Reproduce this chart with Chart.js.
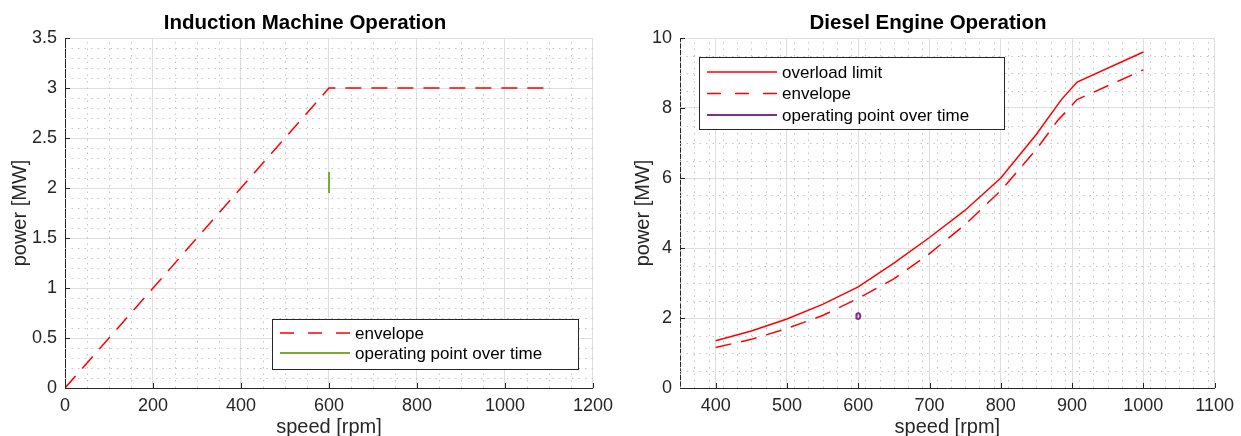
<!DOCTYPE html>
<html><head><meta charset="utf-8">
<script src="https://cdn.jsdelivr.net/npm/chart.js@4.4.0/dist/chart.umd.min.js"></script>
<style>
html,body{margin:0;padding:0;background:#fff;overflow:hidden;width:1241px;height:436px;}
canvas{position:absolute;top:0;}
#c1{left:0;} #c2{left:620px;}
</style></head><body>
<canvas id="c1" width="620" height="460"></canvas>
<canvas id="c2" width="621" height="460"></canvas>
<script>
// ---- Induction machine data ----
const imSpeed    = [0, 600, 1100];
const imEnvelope = [0, 3, 3];
const imOpSpeed  = [600, 600];
const imOpPower  = [1.95, 2.16];
const imXTicks   = [0, 200, 400, 600, 800, 1000, 1200];
const imYTicks   = [0, 0.5, 1, 1.5, 2, 2.5, 3, 3.5];

// ---- Diesel engine data ----
const deLimitSpeed = [400, 450, 500, 550, 600, 650, 700, 750, 800, 850, 885, 907, 1000];
const deOverload   = [1.35, 1.63, 1.97, 2.39, 2.89, 3.57, 4.30, 5.08, 6.00, 7.25, 8.24, 8.74, 9.60];
const deEnvSpeed   = [400, 450, 500, 550, 600, 650, 700, 750, 800, 850, 880, 896, 907, 1000];
const deEnvelope   = [1.16, 1.39, 1.70, 2.07, 2.56, 3.12, 3.84, 4.67, 5.64, 6.82, 7.65, 7.99, 8.24, 9.09];
const deOpSpeed    = [600, 602, 603, 602, 600, 598, 597, 598, 600];
const deOpPower    = [1.97, 1.99, 2.05, 2.12, 2.14, 2.12, 2.05, 1.99, 1.97];
const deXTicks     = [400, 500, 600, 700, 800, 900, 1000, 1100];
const deYTicks     = [0, 2, 4, 6, 8, 10];

// ---- labels ----
const titles = ['Induction Machine Operation', 'Diesel Engine Operation'];
const xLabel = 'speed [rpm]';
const yLabel = 'power [MW]';

const FONT = "'Liberation Sans', Arial, Helvetica, sans-serif";
const TXT = '#262626';

function pts(xs, ys){ return xs.map((x,i)=>({x:x, y:ys[i]})); }

const matlabPlugin = {
  id: 'matlab',
  beforeDatasetsDraw(chart, args, o) {
    const ctx = chart.ctx, ca = chart.chartArea;
    const xs = chart.scales.x, ys = chart.scales.y;
    ctx.save();
    ctx.strokeStyle = '#c4c4c4';
    ctx.lineWidth = 1;
    ctx.setLineDash([1.5, 5]);
    const eps = 1e-9;
    for (let v = xs.min; v <= xs.max + eps; v += o.xMinor) {
      if (Math.abs(v/o.xMajor - Math.round(v/o.xMajor)) < 1e-6) continue;
      const p = Math.round(xs.getPixelForValue(v)) + 0.5;
      ctx.beginPath(); ctx.moveTo(p, ca.bottom); ctx.lineTo(p, ca.top); ctx.stroke();
    }
    for (let v = ys.min; v <= ys.max + eps; v += o.yMinor) {
      if (Math.abs(v/o.yMajor - Math.round(v/o.yMajor)) < 1e-6) continue;
      const p = Math.round(ys.getPixelForValue(v)) + 0.5;
      ctx.beginPath(); ctx.moveTo(ca.left, p); ctx.lineTo(ca.right, p); ctx.stroke();
    }
    ctx.restore();
  },
  afterDatasetsDraw(chart, args, o) {
    const ctx = chart.ctx, ca = chart.chartArea;
    const xs = chart.scales.x, ys = chart.scales.y;
    ctx.save();
    // inward ticks
    ctx.strokeStyle = TXT; ctx.lineWidth = 1; ctx.setLineDash([]);
    xs.ticks.forEach(t => {
      const p = Math.round(xs.getPixelForValue(t.value)) + 0.5;
      ctx.beginPath(); ctx.moveTo(p, ca.bottom); ctx.lineTo(p, ca.bottom - 5); ctx.stroke();
    });
    ys.ticks.forEach(t => {
      const p = Math.round(ys.getPixelForValue(t.value)) + 0.5;
      ctx.beginPath(); ctx.moveTo(ca.left, p); ctx.lineTo(ca.left + 5, p); ctx.stroke();
    });
    // legend
    const L = o.legend;
    ctx.fillStyle = '#fff';
    ctx.fillRect(L.x, L.y, L.w, L.h);
    ctx.strokeStyle = TXT; ctx.lineWidth = 1;
    ctx.strokeRect(L.x + 0.5, L.y + 0.5, L.w, L.h);
    ctx.font = '17px ' + FONT;
    ctx.textBaseline = 'middle';
    ctx.textAlign = 'left';
    chart.data.datasets.forEach((d, i) => {
      const y = L.rows[i];
      ctx.strokeStyle = d.borderColor;
      ctx.lineWidth = d.borderWidth;
      ctx.setLineDash(d.borderDash && d.borderDash.length ? [14, 14] : []);
      ctx.beginPath(); ctx.moveTo(L.s0, y); ctx.lineTo(L.s1, y); ctx.stroke();
      ctx.setLineDash([]);
      ctx.fillStyle = '#000';
      ctx.fillText(d.label, L.tx, y + 1);
    });
    // title
    ctx.font = 'bold 20.5px ' + FONT;
    ctx.textAlign = 'center';
    ctx.textBaseline = 'alphabetic';
    ctx.fillStyle = '#000';
    ctx.fillText(o.title, o.titleX, 28.5);
    ctx.restore();
  }
};

function axis(min, max, tickVals, title, isX, size, titlePad) {
  return {
    type: 'linear', min: min, max: max,
    afterBuildTicks: s => { s.ticks = tickVals.map(v => ({ value: v })); },
    ticks: { autoSkip: false, maxRotation: 0, padding: isX ? 7 : 8,
             color: TXT, font: { family: FONT, size: 18 },
             callback: v => String(Math.round(v * 100) / 100) },
    grid: { color: '#dedede', lineWidth: 1, drawTicks: false },
    border: { display: true, color: TXT, width: 1 },
    title: { display: true, text: title, color: TXT, font: { family: FONT, size: 20 }, padding: titlePad },
    afterFit: s => { if (isX) s.height = size; else s.width = size; }
  };
}

function make(id, datasets, xr, xt, yr, yt, leftW, padRight, yTitlePad, plug) {
  return new Chart(document.getElementById(id), {
    type: 'scatter',
    data: { datasets: datasets },
    options: {
      responsive: false, animation: false,
      layout: { padding: { top: 38, right: padRight, left: 0, bottom: 0 } },
      scales: {
        x: axis(xr[0], xr[1], xt, xLabel, true, 72, { top: 0, bottom: 21 }),
        y: axis(yr[0], yr[1], yt, yLabel, false, leftW, { top: yTitlePad, bottom: 0 })
      },
      plugins: { legend: { display: false }, tooltip: { enabled: false }, matlab: plug }
    },
    plugins: [matlabPlugin]
  });
}

make('c1', [
  { label: 'envelope', data: pts(imSpeed, imEnvelope), showLine: true, borderColor: '#ff0000',
    borderWidth: 1.5, borderDash: [16, 10], pointRadius: 0, tension: 0, fill: false },
  { label: 'operating point over time', data: pts(imOpSpeed, imOpPower), showLine: true,
    borderColor: '#77ac30', borderWidth: 2, pointRadius: 0, tension: 0, fill: false }
], [0, 1200], imXTicks, [0, 3.5], imYTicks, 65, 22, 8, {
  title: titles[0], titleX: 305, xMajor: 200, xMinor: 50, yMajor: 0.5, yMinor: 0.1,
  legend: { x: 272, y: 319, w: 306, h: 50, rows: [333, 353], s0: 280, s1: 350, tx: 355 }
});

make('c2', [
  { label: 'overload limit', data: pts(deLimitSpeed, deOverload), showLine: true, borderColor: '#ff0000',
    borderWidth: 1.5, pointRadius: 0, tension: 0, fill: false },
  { label: 'envelope', data: pts(deEnvSpeed, deEnvelope), showLine: true, borderColor: '#ff0000',
    borderWidth: 1.5, borderDash: [16, 10], pointRadius: 0, tension: 0, fill: false },
  { label: 'operating point over time', data: pts(deOpSpeed, deOpPower), showLine: true,
    borderColor: '#7e2f8e', borderWidth: 2, pointRadius: 0, tension: 0, fill: false }
], [350, 1100], deXTicks, [0, 10], deYTicks, 60, 23, 11, {
  title: titles[1], titleX: 308, xMajor: 100, xMinor: 20, yMajor: 2, yMinor: 0.5,
  legend: { x: 79, y: 57, w: 305, h: 72, rows: [72, 93.5, 115], s0: 87, s1: 157, tx: 162 }
});
</script>
</body></html>
